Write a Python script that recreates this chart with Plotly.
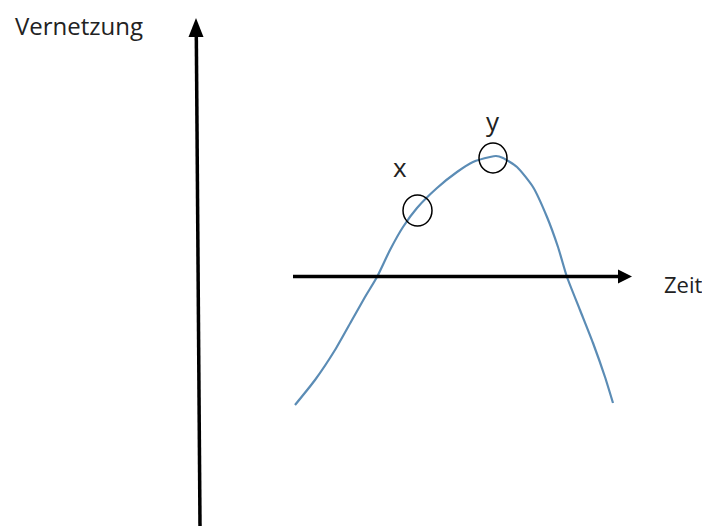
import plotly.graph_objects as go

# Curve: time (horizontal) vs. Vernetzung (vertical), in diagram units (Zeit axis at 0)
zeit = [295, 315, 335, 352, 365, 377, 390, 403, 417, 437, 457, 473, 490, 496, 503, 517, 533, 547, 558, 567, 580, 593, 605, 613]
vernetzung = [-129, -104, -74, -44, -21, -1, 26, 49, 68, 88, 104, 114, 119, 120, 118, 109, 89, 59, 29, -1, -34, -67, -101, -127]

# Marked points
marker_labels = ["x", "y"]
marker_zeit = [417.5, 493]
marker_vernetzung = [65.5, 118]

axis_labels = ["Vernetzung", "Zeit"]

curve_color = "#5b8cb5"
text_color = "#222222"
font_family = "Open Sans, Lato, sans-serif"

fig = go.Figure()
fig.add_trace(go.Scatter(x=zeit, y=vernetzung, mode="lines",
                         line=dict(color=curve_color, width=2.2, shape="spline", smoothing=0.6),
                         hoverinfo="skip", showlegend=False))

shapes = []
# vertical axis arrow (Vernetzung)
shapes.append(dict(type="line", xref="x", yref="y", x0=200, x1=196.3, y0=-250, y1=242,
                   line=dict(color="black", width=3.5)))
shapes.append(dict(type="path", xref="x", yref="y",
                   path="M 188.5 239 L 203.5 239 L 196 258 Z", fillcolor="black", line=dict(width=0)))
# horizontal axis arrow (Zeit)
shapes.append(dict(type="line", xref="x", yref="y", x0=293, x1=620, y0=-0.5, y1=-0.5,
                   line=dict(color="black", width=3.5)))
shapes.append(dict(type="path", xref="x", yref="y",
                   path="M 618 6.5 L 618 -7.5 L 632 -0.5 Z", fillcolor="black", line=dict(width=0)))
# circles around marked points
radii = [(14.5, 15.5), (14, 15)]
for (cx, cy), (rx, ry) in zip(zip(marker_zeit, marker_vernetzung), radii):
    shapes.append(dict(type="circle", xref="x", yref="y",
                       x0=cx - rx, x1=cx + rx, y0=cy - ry, y1=cy + ry,
                       line=dict(color="black", width=1.5)))

annotations = [
    dict(x=14, y=250.5, xref="x", yref="y", text=axis_labels[0], showarrow=False, borderpad=0,
         xanchor="left", yanchor="middle", font=dict(size=24, color=text_color, family=font_family)),
    dict(x=662, y=-8, xref="x", yref="y", text=axis_labels[1], showarrow=False,
         xanchor="left", yanchor="middle", font=dict(size=22, color=text_color, family=font_family)),
]
label_offsets = [(-18, 44), (0, 37)]
for lab, cx, cy, (dx, dy) in zip(marker_labels, marker_zeit, marker_vernetzung, label_offsets):
    annotations.append(dict(x=cx + dx, y=cy + dy, xref="x", yref="y", text=lab, showarrow=False,
                            xanchor="center", yanchor="middle",
                            font=dict(size=26, color=text_color, family=font_family)))

# The page body has an 8px margin, so the ranges are shifted by 8px
fig.update_layout(
    width=710, height=528,
    margin=dict(l=0, r=0, t=0, b=0),
    paper_bgcolor="white", plot_bgcolor="white",
    xaxis=dict(range=[8, 718], visible=False, fixedrange=True),
    yaxis=dict(range=[-260, 268], visible=False, fixedrange=True),
    shapes=shapes, annotations=annotations,
)

fig.write_html("out.html")
